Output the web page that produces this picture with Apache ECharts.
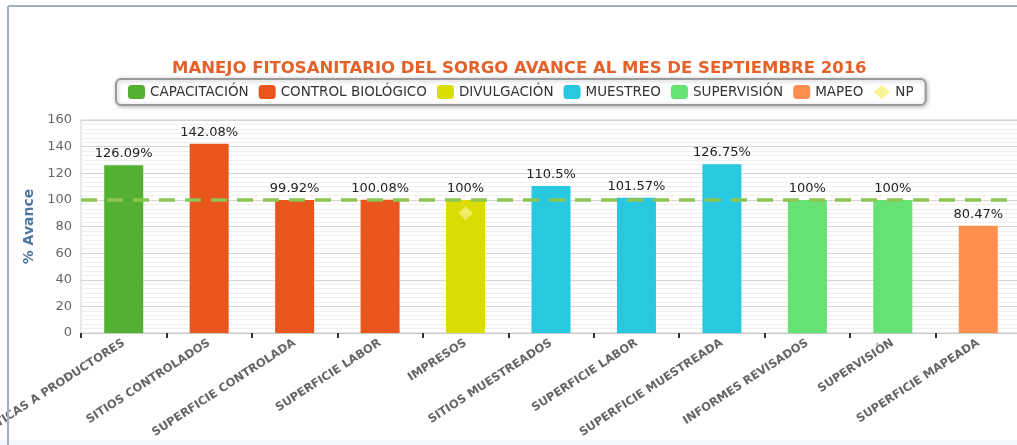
<!DOCTYPE html>
<html>
<head>
<meta charset="utf-8">
<script src="https://cdn.jsdelivr.net/npm/echarts@6/dist/echarts.min.js"></script>
<style>
  html, body { margin: 0; padding: 0; background: #fff; }
  #chart { width: 1017px; height: 445px; }
</style>
</head>
<body>
<div id="chart"></div>
<script>
// datos del avance
const categorias = [
    'PLÁTICAS A PRODUCTORES', 'SITIOS CONTROLADOS', 'SUPERFICIE CONTROLADA', 'SUPERFICIE LABOR',
    'IMPRESOS', 'SITIOS MUESTREADOS', 'SUPERFICIE LABOR', 'SUPERFICIE MUESTREADA',
    'INFORMES REVISADOS', 'SUPERVISIÓN', 'SUPERFICIE MAPEADA'
];
const avance = [126.09, 142.08, 99.92, 100.08, 100, 110.5, 101.57, 126.75, 100, 100, 80.47];
const grupoDe = [
    'CAPACITACIÓN', 'CONTROL BIOLÓGICO', 'CONTROL BIOLÓGICO', 'CONTROL BIOLÓGICO',
    'DIVULGACIÓN', 'MUESTREO', 'MUESTREO', 'MUESTREO',
    'SUPERVISIÓN', 'SUPERVISIÓN', 'MAPEO'
];
const grupos = ['CAPACITACIÓN', 'CONTROL BIOLÓGICO', 'DIVULGACIÓN', 'MUESTREO', 'SUPERVISIÓN', 'MAPEO'];
const coloresGrupo = ['#54b031', '#e8561e', '#dadd04', '#28c8e0', '#66e173', '#ff8f4f'];
const npValores = ['-', '-', '-', '-', 90, '-', '-', '-', '-', '-', '-'];
const meta = 100;

const fuente = 'DejaVu Sans';

// una serie por grupo, apiladas para que la barra quede centrada
const seriesBarras = grupos.map((g, i) => ({
    name: g,
    type: 'bar',
    stack: 'avance',
    barWidth: 39,
    z: 3,
    itemStyle: { color: coloresGrupo[i] },
    label: {
        show: true,
        position: 'top',
        formatter: '{c}%',
        color: '#222',
        fontFamily: fuente,
        fontSize: 13
    },
    data: avance.map((v, k) => grupoDe[k] === g ? v : '-')
}));

const chart = echarts.init(document.getElementById('chart'));

const option = {
    animation: false,
    backgroundColor: '#fff',
    textStyle: { fontFamily: fuente },
    graphic: [
        { type: 'rect', z: -10, shape: { x: 0, y: 440, width: 1017, height: 5 }, style: { fill: '#f2fbff' } },
        { type: 'line', z: 100, shape: { x1: 8, y1: 6, x2: 1017, y2: 6 }, style: { stroke: '#a3afbd', lineWidth: 2 } },
        { type: 'line', z: 100, shape: { x1: 8, y1: 6, x2: 8, y2: 445 }, style: { stroke: '#a3afbd', lineWidth: 2 } }
    ],
    title: {
        text: 'MANEJO FITOSANITARIO DEL SORGO AVANCE AL MES DE SEPTIEMBRE 2016',
        left: 167,
        top: 55,
        textStyle: { color: '#e4622a', fontSize: 16.5, fontWeight: 'bold', fontFamily: fuente }
    },
    legend: {
        top: 79,
        left: 116,
        data: grupos.concat([{ name: 'NP', icon: 'diamond' }]),
        itemWidth: 17,
        itemHeight: 14,
        itemGap: 10,
        borderColor: '#9a9a9a',
        borderWidth: 2,
        borderRadius: 5,
        padding: [6, 12],
        shadowColor: 'rgba(0,0,0,0.25)',
        shadowBlur: 4,
        shadowOffsetX: 1,
        shadowOffsetY: 1,
        backgroundColor: '#fff',
        textStyle: { color: '#333', fontSize: 13.5, fontFamily: fuente }
    },
    grid: {
        left: 81,
        right: -4,
        top: 120,
        bottom: 112,
        containLabel: false,
        outerBoundsMode: 'none',
        show: true,
        borderColor: '#d0d0d0',
        borderWidth: 1
    },
    xAxis: {
        type: 'category',
        data: categorias,
        axisLine: { lineStyle: { color: '#c8c8c8' } },
        axisTick: { show: true, length: 5, lineStyle: { color: '#333', width: 2 } },
        axisLabel: {
            rotate: 33,
            margin: 9,
            interval: 0,
            color: '#666',
            fontWeight: 'bold',
            fontSize: 11.5,
            fontFamily: fuente
        }
    },
    yAxis: {
        type: 'value',
        min: 0,
        max: 160,
        interval: 20,
        name: '% Avance',
        nameLocation: 'middle',
        nameGap: 44,
        nameTextStyle: { color: '#4d77a3', fontSize: 14, fontWeight: 'bold', fontFamily: fuente },
        axisLine: { show: false },
        axisTick: { show: false },
        axisLabel: { color: '#666', fontSize: 13, fontFamily: fuente, margin: 9 },
        splitLine: { lineStyle: { color: '#d4d4d4' } },
        minorTick: { show: false, splitNumber: 6 },
        minorSplitLine: { show: true, lineStyle: { color: '#efefef' } }
    },
    series: seriesBarras.concat([
        {
            name: 'NP',
            type: 'scatter',
            symbol: 'diamond',
            symbolSize: 14,
            z: 5,
            itemStyle: { color: '#f8f07e' },
            data: npValores
        },
        {
            // línea de meta al 100%, detrás de las barras
            type: 'line',
            z: 1,
            data: [],
            silent: true,
            markLine: {
                symbol: 'none',
                silent: true,
                label: { show: false },
                lineStyle: { color: '#8cc653', width: 3.5, type: [16, 10], opacity: 1 },
                data: [{ yAxis: meta }]
            }
        }
    ])
};

chart.setOption(option);
</script>
</body>
</html>
